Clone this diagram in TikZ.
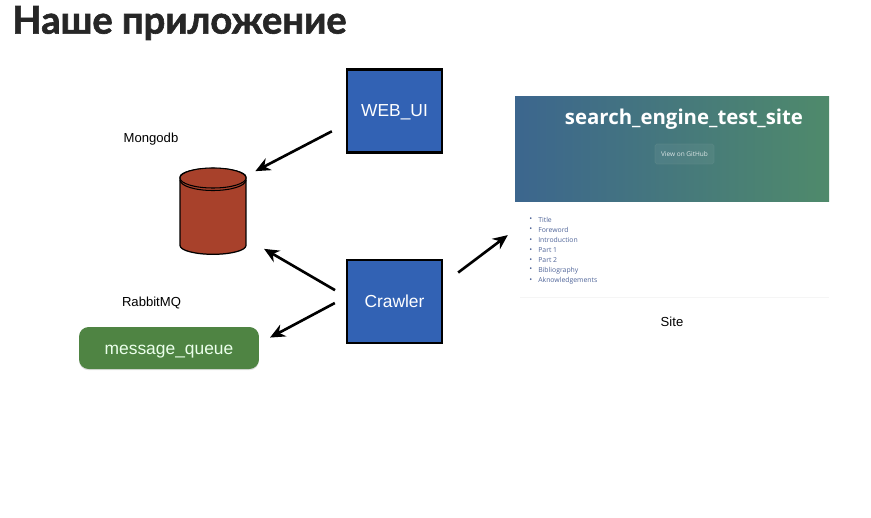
\documentclass[tikz,border=0pt]{standalone}
\usepackage{fontspec}
\setmainfont{Liberation Sans}
\newfontfamily\titlefont[BoldFeatures={FakeBold=1.6}]{Lato}
\newfontfamily\sitefont{Open Sans}
\usetikzlibrary{arrows.meta,shapes.geometric,shadows}
\definecolor{boxblue}{HTML}{3262B4}
\definecolor{dbred}{HTML}{A8412B}
\definecolor{queuegreen}{HTML}{4F8443}
\definecolor{linkblue}{HTML}{4F6498}
\definecolor{headerleft}{HTML}{3C668E}
\definecolor{headerright}{HTML}{4F8A6B}
\definecolor{buttonline}{HTML}{5F8A8A}
\newcommand{\listdot}{\makebox[5.1pt][l]{\fontsize{4.4}{5}\selectfont\raisebox{.2pt}{\textbullet}}}
\tikzset{
  flow/.style={-{Stealth[length=8.5pt,width=7.5pt]},line width=1.5pt,black},
  appbox/.style={draw=black,line width=1.5pt,fill=boxblue,text=white,minimum width=1.9cm,minimum height=1.66cm,text depth=0pt,
    font=\fontsize{9.9}{12}\selectfont,drop shadow={shadow xshift=0pt,shadow yshift=-.6pt,opacity=.25}},
  caption/.style={font=\fontsize{7.45}{10}\selectfont},
  siteitem/.style={anchor=west,inner sep=0pt,text=linkblue,font=\sitefont\fontsize{3.9}{5}\selectfont},
}
\begin{document}
\begin{tikzpicture}[x=.02cm,y=-.02cm]
  \useasboundingbox (0,0) rectangle (871,517);
  \node[anchor=west,inner sep=0pt,text=black!85] (title) at (12,23) {\titlefont\fontsize{21.7}{25}\selectfont\bfseries Наше приложение};

  \node[appbox] (webui) at (394.5,111) {WEB\_UI};
  \node[appbox] (crawler) at (394.5,301.5) {Crawler};

  \node[cylinder,shape border rotate=90,aspect=1.5,draw=black,line width=.7pt,fill=dbred,minimum width=1.32cm,minimum height=1.72cm,
    drop shadow={shadow xshift=0pt,shadow yshift=-.5pt,opacity=.2}] (mongo) at (213,218.5) {};
  \draw[line width=.6pt,fill=dbred] (180,180) arc[start angle=180,end angle=0,x radius=33,y radius=10.5];
  \draw[line width=.6pt,fill=dbred] (213,178) ellipse [x radius=33,y radius=10];
  \node[caption] (mongolabel) at (151,139.5) {Mongodb};

  \node[caption] (rabbitlabel) at (151.5,302.5) {RabbitMQ};
  \node[rounded corners=5.5pt,fill=queuegreen,text=white!92!green,minimum width=3.6cm,minimum height=.84cm,text height=7pt,text depth=0pt,
    font=\fontsize{9.9}{12}\selectfont,drop shadow={shadow xshift=0pt,shadow yshift=-.7pt,opacity=.25}] (queue) at (169,348) {message\_queue};

  \node[minimum width=6.28cm,minimum height=4.02cm,inner sep=0pt] (site) at (672,196.5) {};
  \shade[left color=headerleft,right color=headerright] (515,96) rectangle (829,201);
  \node[text=white,font=\sitefont\fontsize{11.6}{15}\selectfont\bfseries] (sitetitle) at (684,119.5) {search\_engine\_test\_site};
  \node[draw=buttonline,fill=white,fill opacity=.06,draw opacity=.6,text opacity=.8,text=white,rounded corners=1pt,minimum width=1.18cm,minimum height=.4cm,inner sep=0pt,
    font=\sitefont\fontsize{3.7}{5}\selectfont] (github) at (684.5,154) {View on GitHub};
  \node[siteitem] (item1) at (529,219.5) {\listdot Title};
  \node[siteitem] (item2) at (529,229.7) {\listdot Foreword};
  \node[siteitem] (item3) at (529,239.9) {\listdot Introduction};
  \node[siteitem] (item4) at (529,250.1) {\listdot Part 1};
  \node[siteitem] (item5) at (529,260.3) {\listdot Part 2};
  \node[siteitem] (item6) at (529,270.5) {\listdot Bibliography};
  \node[siteitem] (item7) at (529,280.7) {\listdot Aknowledgements};
  \draw[black!4,line width=.4pt] (520,297) -- (829,297);
  \node[caption] (sitelabel) at (672,322) {Site};

  \draw[flow,shorten <=8.9pt,shorten >=5.8pt] (webui.195) -- (mongo.52);
  \draw[flow,shorten <=7pt,shorten >=11.5pt] (crawler.174) -- (mongo.-31);
  \draw[flow,shorten <=7pt,shorten >=6.9pt] (crawler.175) -- (queue.3);
  \draw[flow,shorten <=10.6pt,shorten >=4.9pt] (crawler.20) -- (site.192);
\end{tikzpicture}
\end{document}
